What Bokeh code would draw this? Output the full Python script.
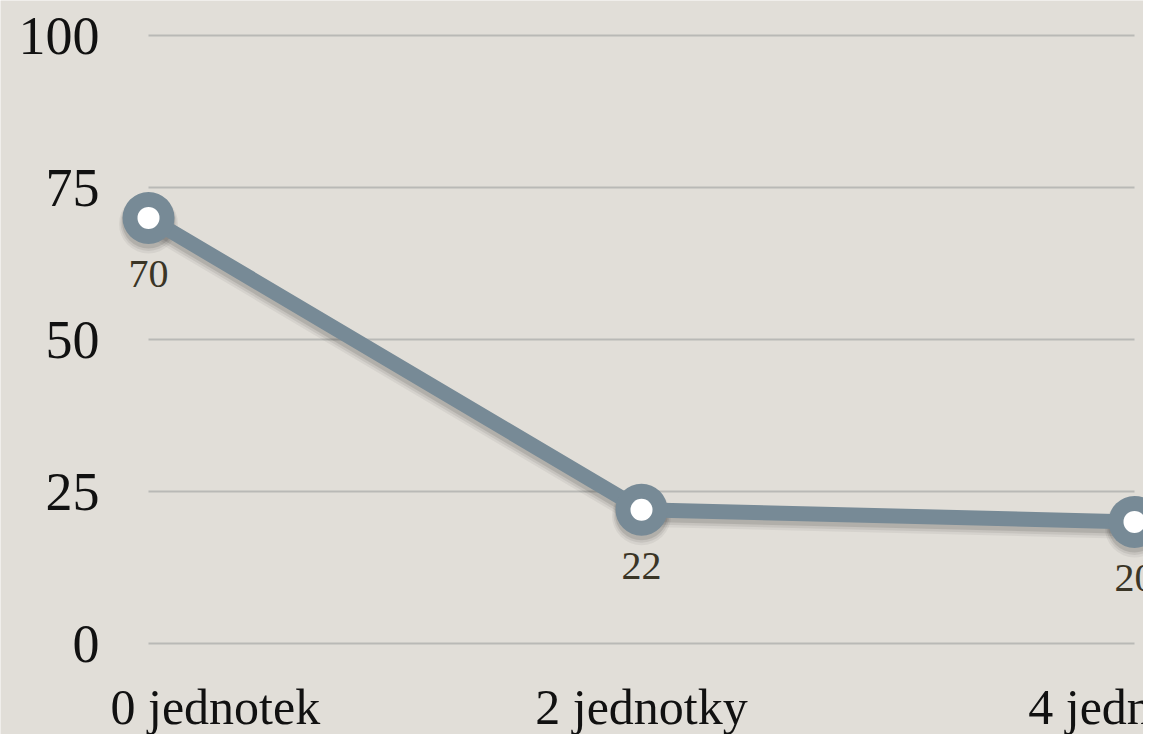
from bokeh.plotting import figure
from bokeh.models import Range1d, ColumnDataSource
from bokeh.core.properties import value
from bokeh.embed import file_html
from bokeh.resources import INLINE

categories = ["0 jednotek", "2 jednotky", "4 jednotky"]
values = [70, 22, 20]
y_ticks = [0, 25, 50, 75, 100]
y_tick_labels = ["0", "25", "50", "75", "100"]

BG = "#e1ded8"
LINE = "#778a96"
GRID = "#b9b9b6"
FONT = value("Liberation Serif")

W, H = 1143, 734
# pixel geometry of the plotting area
x0_px, x2_px = 148, 1134        # where first and last category sit
y0_px, y100_px = 643, 35        # where 0 and 100 sit
ppu_x = (x2_px - x0_px) / (len(categories) - 1)
ppu_y = (y0_px - y100_px) / (y_ticks[-1] - y_ticks[0])

xs = list(range(len(categories)))
x_start = -x0_px / ppu_x
x_end = (W - x0_px) / ppu_x
y_end = y_ticks[-1] + y100_px / ppu_y
y_start = -(H - y0_px) / ppu_y

p = figure(width=W, height=H, output_backend="svg", toolbar_location=None,
           x_range=Range1d(x_start, x_end), y_range=Range1d(y_start, y_end),
           min_border=0, background_fill_color=BG, border_fill_color=BG,
           outline_line_color=None)
p.axis.visible = False
p.grid.visible = False

# gridlines
p.segment(x0=[xs[0]] * len(y_ticks), x1=[xs[-1]] * len(y_ticks), y0=y_ticks, y1=y_ticks,
          line_color=GRID, line_width=2)

# y tick labels
p.text(x=[xs[0]] * len(y_ticks), y=y_ticks, text=y_tick_labels, x_offset=-49,
       text_align="right", text_baseline="middle", text_font=FONT,
       text_font_size="54px", text_color="#111111")

# shadow
for dy, a, w in [(6, 0.05, 22), (5, 0.07, 19), (4, 0.10, 16)]:
    sv = [v - dy / ppu_y for v in values]
    p.line(xs, sv, line_color="black", line_alpha=a, line_width=w)
    p.scatter(xs, sv, size=52 + (w - 15), fill_color="black", fill_alpha=a, line_color=None)

# series
p.line(xs, values, line_color=LINE, line_width=15)
p.scatter(xs, values, size=52, fill_color=LINE, line_color=None)
p.scatter(xs, values, size=22, fill_color="white", line_color=None)

# data labels
p.text(x=xs, y=values, text=[str(v) for v in values], y_offset=56,
       text_align="center", text_baseline="middle", text_font=FONT,
       text_font_size="40px", text_color="#3a3526")

# category labels
src = ColumnDataSource(dict(x=xs, y=[y_ticks[0]] * len(xs), text=categories,
                            align=["left", "center", "center"],
                            xo=[-38, 0, 0]))
p.text(x="x", y="y", text="text", x_offset="xo", y_offset=63, text_align="align",
       text_baseline="middle", text_font=FONT, text_font_size="50px",
       text_color="#111111", source=src)

open("out.html", "w").write(file_html(p, INLINE))
